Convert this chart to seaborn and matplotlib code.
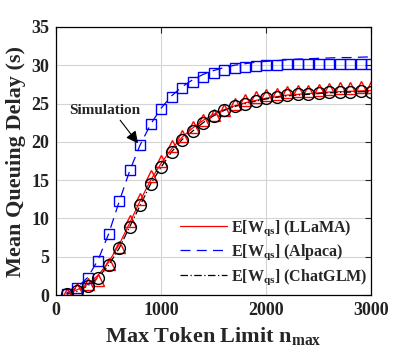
import numpy as np
import matplotlib
matplotlib.use("Agg")
import matplotlib.pyplot as plt
import seaborn as sns

# max token limit (simulation points and analytical curves share the grid)
n_max = list(range(100, 3100, 100))

# analytical E[W_qs]
llama_ana = [0.2, 0.7, 1.4, 2.6, 4.3, 6.6, 9.4, 12.3, 15.0, 17.2,
             19.1, 20.6, 21.8, 22.8, 23.6, 24.2, 24.7, 25.1, 25.4, 25.7,
             25.9, 26.1, 26.2, 26.3, 26.4, 26.5, 26.55, 26.6, 26.65, 26.7]
alpaca_ana = [0.3, 1.0, 2.3, 4.6, 8.0, 12.2, 16.2, 19.6, 22.3, 24.4,
              26.0, 27.2, 28.1, 28.8, 29.3, 29.7, 30.0, 30.2, 30.4, 30.5,
              30.6, 30.7, 30.8, 30.85, 30.9, 30.95, 31.0, 31.0, 31.05, 31.1]
chatglm_ana = [0.1, 0.5, 1.2, 2.3, 3.9, 6.1, 8.9, 11.7, 14.5, 16.7,
               18.7, 20.3, 21.4, 22.5, 23.4, 24.1, 24.6, 25.0, 25.3, 25.6,
               25.8, 26.0, 26.1, 26.2, 26.3, 26.4, 26.45, 26.5, 26.55, 26.55]

# simulation points
llama_sim = [0.2, 0.8, 1.5, 2.0, 4.1, 6.3, 9.7, 12.6, 15.5, 17.5,
             19.5, 20.8, 21.9, 22.8, 23.5, 24.2, 24.9, 25.4, 25.8, 26.1,
             26.3, 26.5, 26.6, 26.7, 26.8, 26.9, 27.0, 27.05, 27.1, 27.1]
alpaca_sim = [0.2, 0.87, 2.2, 4.4, 8.0, 12.3, 16.3, 19.65, 22.3, 24.35,
              25.8, 27.0, 27.8, 28.4, 29.0, 29.35, 29.6, 29.8, 29.9, 30.0,
              30.05, 30.1, 30.1, 30.15, 30.2, 30.2, 30.2, 30.2, 30.2, 30.2]
chatglm_sim = [0.1, 0.56, 1.17, 2.26, 3.9, 6.1, 8.9, 11.7, 14.5, 16.7,
               18.7, 20.3, 21.4, 22.5, 23.4, 24.1, 24.65, 25.0, 25.3, 25.7,
               25.9, 26.1, 26.2, 26.3, 26.4, 26.45, 26.5, 26.55, 26.6, 26.55]

sns.set_style("whitegrid")
plt.rcParams['font.family'] = ['Liberation Serif', 'DejaVu Serif']
plt.rcParams['font.weight'] = 'bold'
plt.rcParams['mathtext.fontset'] = 'custom'
plt.rcParams['mathtext.bf'] = 'Liberation Serif:bold'
plt.rcParams['mathtext.rm'] = 'Liberation Serif:bold'
plt.rcParams['mathtext.default'] = 'bf'

fig = plt.figure(figsize=(4.1, 3.59), dpi=100)
ax = fig.add_axes([0.137, 0.178, 0.768, 0.747])

lw = 0.9
sns.lineplot(x=n_max, y=llama_ana, ax=ax, color='red', linewidth=lw,
             label=r'E[W$_{qs}$] (LLaMA)')
sns.lineplot(x=n_max, y=alpaca_ana, ax=ax, color='blue', linewidth=lw,
             linestyle=(0, (8, 5)), label=r'E[W$_{qs}$] (Alpaca)')
sns.lineplot(x=n_max, y=chatglm_ana, ax=ax, color='black', linewidth=lw,
             linestyle=(0, (6, 2, 1, 2)), label=r'E[W$_{qs}$] (ChatGLM)')

mk = dict(linestyle='', markerfacecolor='none', markeredgewidth=1.0)
sns.lineplot(x=n_max, y=llama_sim, ax=ax, marker='^', markersize=8,
             markeredgecolor='red', **mk)
sns.lineplot(x=n_max, y=alpaca_sim, ax=ax, marker='s', markersize=7,
             markeredgecolor='blue', **mk)
sns.lineplot(x=n_max, y=chatglm_sim, ax=ax, marker='o', markersize=8.5,
             markeredgecolor='black', **mk)

ax.annotate('Simulation', xy=(780, 19.8), xytext=(125, 24.1),
            fontsize=11, fontweight='bold', va='center', ha='left',
            arrowprops=dict(arrowstyle='-|>', color='black', lw=0.8,
                            mutation_scale=18, shrinkA=0, shrinkB=0,
                            relpos=(0.68, 0.0)))

ax.set_xlim(0, 3000)
ax.set_ylim(0, 35)
ax.set_xticks([0, 1000, 2000, 3000])
ax.set_yticks(range(0, 40, 5))
ax.grid(True, color='#d4d4d4', linewidth=0.8)
for s in ax.spines.values():
    s.set_color('black')
    s.set_linewidth(0.9)
ax.tick_params(direction='in', length=4, width=0.8, labelsize=13,
               top=True, right=True, pad=5)
for t in ax.get_xticklabels() + ax.get_yticklabels():
    t.set_fontweight('bold')
    t.set_color('#222222')

ax.set_xlabel(r'Max Token Limit n$_{max}$', fontsize=16, fontweight='bold')
ax.set_ylabel('Mean Queuing Delay (s)', fontsize=16, fontweight='bold')

ax.legend(loc='lower right', bbox_to_anchor=(1.0, 0.02), frameon=False,
          fontsize=11.5, handlelength=3.0, labelspacing=0.3,
          borderaxespad=0.0, borderpad=0.2, handletextpad=0.25)

fig.savefig('out.png', dpi=100)
